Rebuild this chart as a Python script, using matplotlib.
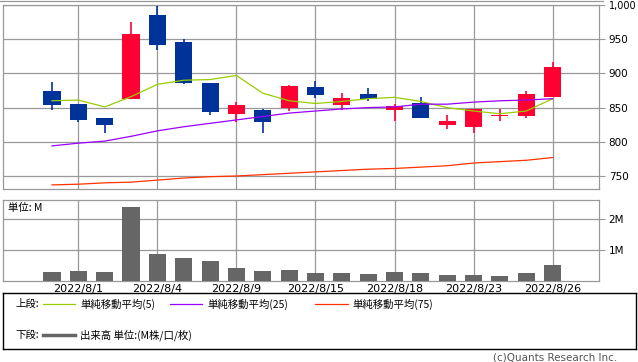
import matplotlib
matplotlib.use("Agg")
import matplotlib.pyplot as plt
from matplotlib.lines import Line2D
import numpy as np

# データ (7/29 - 8/26)
dates = ["7/29", "8/1", "8/2", "8/3", "8/4", "8/5", "8/8", "8/9", "8/10", "8/12",
         "8/15", "8/16", "8/17", "8/18", "8/19", "8/22", "8/23", "8/24", "8/25", "8/26"]
opens = [874, 855, 835, 863, 985, 946, 886, 841, 846, 850,
         880, 854, 870, 846, 857, 825, 821, 837, 838, 866]
closes = [854, 832, 825, 958, 942, 886, 844, 854, 829, 882,
          868, 864, 863, 852, 835, 830, 848, 839, 870, 909]
highs = [887, 855, 835, 975, 999, 950, 886, 858, 848, 883,
         889, 871, 879, 855, 866, 839, 848, 848, 874, 917]
lows = [847, 829, 813, 863, 934, 885, 839, 829, 813, 845,
        864, 847, 860, 831, 835, 818, 813, 830, 835, 866]
ma5 = [860, 861, 851, 866, 884, 890, 891, 897, 871, 860,
       856, 859, 863, 865, 859, 850, 845, 841, 845, 863]
ma25 = [794, 798, 801, 808, 816, 822, 827, 832, 837, 842,
        845, 848, 850, 851, 855, 855, 858, 860, 861, 863]
ma75 = [737, 738, 740, 741, 744, 747, 749, 750, 752, 754,
        756, 758, 760, 761, 763, 765, 769, 771, 773, 777]
volume = [0.28, 0.32, 0.28, 2.40, 0.87, 0.74, 0.64, 0.41, 0.32, 0.35,
          0.25, 0.25, 0.22, 0.28, 0.25, 0.19, 0.19, 0.15, 0.25, 0.51]
tick_idx = [1, 4, 7, 10, 13, 16, 19]
tick_labels = ["2022/8/1", "2022/8/4", "2022/8/9", "2022/8/15",
               "2022/8/18", "2022/8/23", "2022/8/26"]
price_ticks = [750, 800, 850, 900, 950, 1000]
price_labels = ["750", "800", "850", "900", "950", "1,000"]

RED = "#ff0033"
BLUE = "#003399"
GRID = "#999999"
jp = ["Noto Sans CJK JP", "DejaVu Sans"]

W, H = 638, 362
fig = plt.figure(figsize=(W / 100, H / 100), dpi=100)
fig.patch.set_facecolor("white")

def box(l, t, r, b):
    return [l / W, 1 - b / H, (r - l) / W, (b - t) / H]

x = np.arange(len(dates))
xlim = (-1.86, 20.76)

# 上段: ローソク足
ax = fig.add_axes(box(3, 5, 599, 189))
ax.set_xlim(*xlim)
ax.set_ylim(1000 - (189 - 5) / 0.684, 1000)
for i in x:
    c = RED if closes[i] >= opens[i] else BLUE
    ax.vlines(i, lows[i], highs[i], color=c, lw=1.2, zorder=3)
    lo = min(opens[i], closes[i])
    hi = max(opens[i], closes[i])
    ax.bar(i, max(hi - lo, 1.2), bottom=lo, width=0.65, color=c, zorder=4)
ax.plot(x, ma5, color="#99cc00", lw=0.9, zorder=5)
ax.plot(x, ma25, color="#9900ff", lw=0.9, zorder=5)
ax.plot(x, ma75, color="#ff3300", lw=0.9, zorder=5)
ax.set_yticks(price_ticks)
ax.set_yticklabels(price_labels)
ax.set_xticks(tick_idx)
ax.set_xticklabels([])
ax.yaxis.tick_right()
ax.tick_params(axis="y", length=4, width=0.8, color=GRID, labelsize=7.5, pad=3)
ax.tick_params(axis="x", length=0)
ax.grid(True, color=GRID, lw=0.9, zorder=0)
for s in ax.spines.values():
    s.set_color(GRID)
    s.set_linewidth(0.9)
# 1,000 は右端に収まるよう少し小さく
ax.get_yticklabels()[-1].set_fontsize(7)

# 下段: 出来高
ax2 = fig.add_axes(box(3, 200, 599, 281))
ax2.set_xlim(*xlim)
ax2.set_ylim(0, 2.63)
ax2.bar(x, volume, width=0.65, color="#666666", zorder=3)
ax2.set_yticks([1, 2])
ax2.set_yticklabels(["1M", "2M"])
ax2.set_xticks(tick_idx)
ax2.set_xticklabels(tick_labels)
ax2.yaxis.tick_right()
ax2.tick_params(axis="y", length=4, width=0.8, color=GRID, labelsize=7.5, pad=3)
ax2.tick_params(axis="x", length=0, labelsize=8, pad=2)
ax2.grid(True, color=GRID, lw=0.9, zorder=0)
for s in ax2.spines.values():
    s.set_color(GRID)
    s.set_linewidth(0.9)
ax2.text(5 / 596, 0.96, "単位: M", transform=ax2.transAxes, ha="left", va="top",
         fontsize=7.5, family=jp)

# 一番上の線
fig.add_artist(Line2D([0, 603 / W], [1 - 0.5 / H, 1 - 0.5 / H], color=GRID, lw=0.9))

# 凡例
lg = fig.add_axes(box(3, 293, 636, 349))
lg.set_xlim(0, 633)
lg.set_ylim(56, 0)
lg.set_xticks([])
lg.set_yticks([])
for s in lg.spines.values():
    s.set_color("black")
    s.set_linewidth(1)
r1, r2 = 11, 42
lg.text(12, r1, "上段:", fontsize=7.5, family=jp, va="center")
lg.plot([40, 72], [r1, r1], color="#99cc00", lw=0.9)
lg.text(77, r1, "単純移動平均(5)", fontsize=7.5, family=jp, va="center")
lg.plot([167, 199], [r1, r1], color="#9900ff", lw=0.9)
lg.text(204, r1, "単純移動平均(25)", fontsize=7.5, family=jp, va="center")
lg.plot([312, 345], [r1, r1], color="#ff3300", lw=0.9)
lg.text(349, r1, "単純移動平均(75)", fontsize=7.5, family=jp, va="center")
lg.text(12, r2, "下段:", fontsize=7.5, family=jp, va="center")
lg.plot([40, 72], [r2, r2], color="#666666", lw=2.5)
lg.text(77, r2, "出来高 単位:(M株/口/枚)", fontsize=7.5, family=jp, va="center")

fig.text(617 / W, 1 - 357 / H, "(c)Quants Research Inc.", ha="right", va="center",
         fontsize=7.5, color="#555555")

fig.savefig("out.png", dpi=100)
